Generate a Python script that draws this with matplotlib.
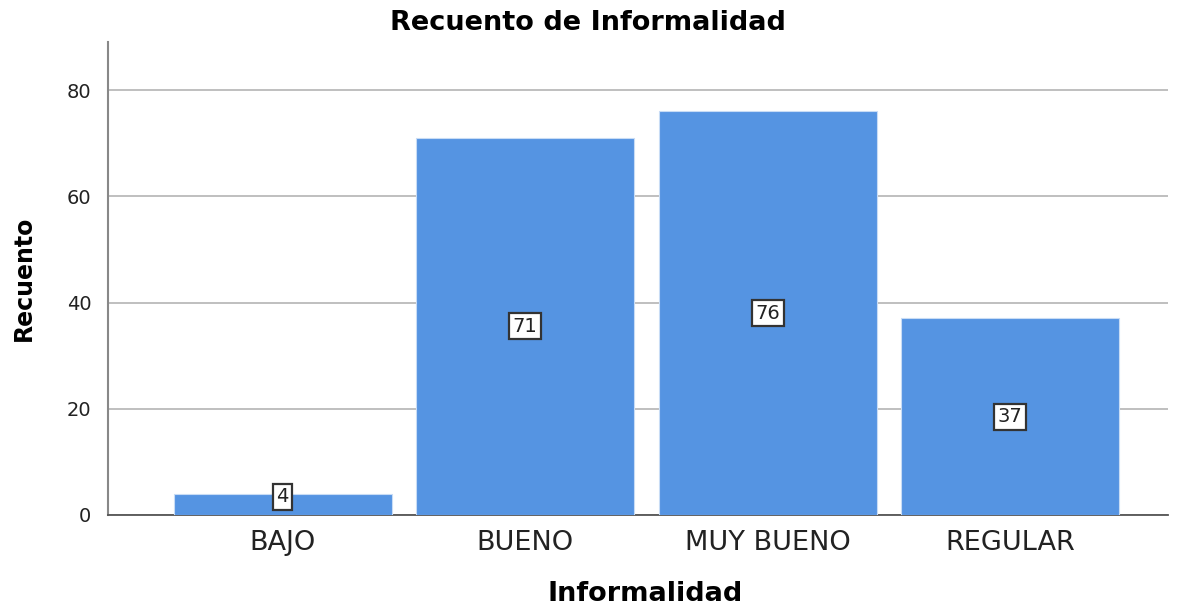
import matplotlib
matplotlib.use("Agg")
import matplotlib.pyplot as plt

categories = ["BAJO", "BUENO", "MUY BUENO", "REGULAR"]
counts = [4, 71, 76, 37]
yticks = [0, 20, 40, 60, 80]

plt.rcParams['font.family'] = ['DejaVu Sans']

fig = plt.figure(figsize=(11.82, 6.12), dpi=100)
ax = fig.add_axes([0.0914, 0.1585, 0.8966, 0.7725])

x = range(len(categories))
bars = ax.bar(x, counts, width=0.9, color='#5594e2', edgecolor='#c8dcf5', linewidth=0.8, zorder=3)

for b, v in zip(bars, counts):  # value label boxed at mid height, kept above the axis line
    ax.text(b.get_x() + b.get_width() / 2, max(v / 2, 3.4), str(v), ha='center', va='center',
            fontsize=14, color='#222222', zorder=4,
            bbox=dict(boxstyle='square,pad=0.18', facecolor='white', edgecolor='#333333', linewidth=1.6))

ax.set_xlim(-0.72, 3.65)
ax.set_ylim(0, 89)
ax.set_yticks(yticks)
ax.set_xticks(list(x))
ax.set_xticklabels(categories, fontsize=19.5, color='#222222')
ax.tick_params(axis='y', labelsize=14, length=0, pad=12, colors='#222222')
ax.tick_params(axis='x', length=0, pad=11)
ax.yaxis.grid(True, color='#b4b4b4', linewidth=1.2, zorder=0)

for s in ['top', 'right']:
    ax.spines[s].set_visible(False)
ax.spines['left'].set_color('#888888')
ax.spines['left'].set_linewidth(1.5)
ax.spines['bottom'].set_color('#555555')
ax.spines['bottom'].set_linewidth(1.3)

fig.text(0.497, 0.963, 'Recuento de Informalidad', fontsize=19.5, fontweight='bold',
         ha='center', va='center')
ax.set_xlabel('Informalidad', fontsize=19.5, fontweight='bold', va='center')
ax.xaxis.set_label_coords(0.507, -0.168)
ax.set_ylabel('Recuento', fontsize=17, fontweight='bold', labelpad=22)

fig.savefig('out.png', dpi=100)
